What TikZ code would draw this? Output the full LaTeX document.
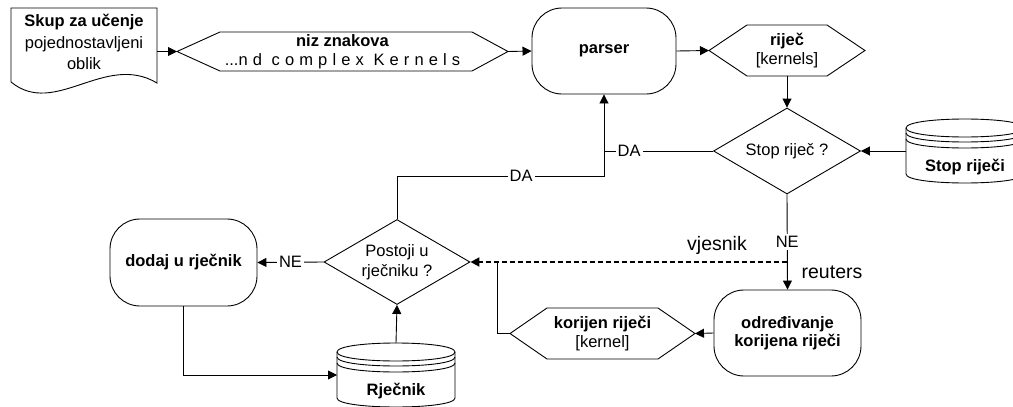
\documentclass[tikz,border=0pt]{standalone}
\usepackage{fontspec}
\setmainfont{Liberation Sans}
\usetikzlibrary{arrows.meta,shapes.geometric}

\tikzset{
  shape line/.style={draw=black, line width=0.9pt},
  txt/.style={font=\fontsize{16.5}{19.5}\selectfont, align=center, inner sep=0pt},
  boldtxt/.style={txt, font=\fontsize{16.5}{19.5}\selectfont\bfseries},
  hexbox/.style={txt, draw=none, outer sep=0pt, inner sep=0pt},
  procbox/.style={shape line, rectangle, rounded corners=30pt, boldtxt,
    font=\fontsize{16.5}{18}\selectfont\bfseries},
  decision/.style={shape line, diamond, aspect=1.7, txt, fill=white},
  cylbox/.style={draw=none, inner sep=0pt, outer sep=0pt,
    minimum width=118pt, minimum height=64pt},
  line/.style={draw=black, line width=0.9pt},
  conn/.style={line, -{Triangle[length=9pt,width=9pt]}},
  dashconn/.style={conn, line width=2pt, dash pattern=on 5pt off 3pt},
  lbl/.style={txt, fill=white, inner sep=2pt},
  bigtxt/.style={font=\fontsize{19.5}{22}\selectfont, inner sep=0pt},
}

% hexagonal data block: name, cx, cy, width, height, left depth, right depth, text
\newcommand\hexnode[8]{%
  \node[hexbox, minimum width=#4pt, minimum height=#5pt] (#1) at (#2,#3) {#8};
  \draw[shape line] (#1.west) -- ([xshift=#6pt]#1.north west)
    -- ([xshift=-#7pt]#1.north east) -- (#1.east)
    -- ([xshift=-#7pt]#1.south east) -- ([xshift=#6pt]#1.south west) -- cycle;}

% stacked-disc database: name, left x, top y, text, text node name
\newcommand\dbnode[5]{%
  \node[cylbox] (#1) at (#2+59,#3+32) {};
  \draw[shape line, fill=white] (#2,#3+9) -- (#2,#3+55)
    .. controls (#2,#3+67) and (#2+118,#3+67) .. (#2+118,#3+55)
    -- (#2+118,#3+9)
    .. controls (#2+118,#3-3) and (#2,#3-3) .. cycle;
  \foreach \k in {0,5,11}
    \draw[shape line] (#2,#3+9+\k) .. controls (#2,#3+21+\k) and (#2+118,#3+21+\k) .. (#2+118,#3+9+\k);
  \node[boldtxt] (#5) at (#2+59,#3+48) {#4};}

\begin{document}
\begin{tikzpicture}[x=1pt, y=-1pt]
\useasboundingbox (0,0) rectangle (1013,407);

% training set document
\draw[shape line] (11,8) -- (157,8) -- (157,83)
  .. controls (105,52) and (55,118) .. (11,82) -- cycle;
\node[txt, font=\fontsize{16.5}{21.5}\selectfont] (skup) at (84,42)
  {\textbf{Skup za učenje}\\pojednostavljeni\\oblik};
\coordinate (skup-out) at (157,51.5);

% data blocks
\hexnode{niz}{342.5}{51.5}{331}{39}{43}{36}
  {\textbf{niz znakova}\\...{\addfontfeatures{LetterSpace=31}nd complex Kernels}}
\hexnode{rijec}{787}{50.5}{156}{51}{38}{38}{\textbf{riječ}\\{}[kernels]}
\hexnode{korijen}{602.5}{333.5}{185}{51}{37}{37}
  {\textbf{korijen riječi}\\{}[kernel]}

% processes
\node[procbox, minimum width=144pt, minimum height=86pt] (parser) at (604,51) {parser};
\node[procbox, minimum width=147pt, minimum height=87pt] (dodaj) at (183.5,262.5) {dodaj u rječnik};
\node[procbox, minimum width=147pt, minimum height=86pt] (odr) at (787.5,333)
  {određivanje\\korijena riječi};

% decisions
\node[decision, minimum width=147pt, minimum height=86pt] (stop) at (787,151) {Stop riječ ?};
\node[decision, minimum width=146pt, minimum height=85pt] (postoji) at (397,262)
  {Postoji u\\rječniku ?};

% databases
\dbnode{stopdb}{906}{119}{Stop riječi}{stopdb-t}
\dbnode{rjdb}{337}{343}{Rječnik}{rjdb-t}

% connectors
\draw[conn] (skup-out) -- (niz.west);
\draw[conn] (niz.east) -- (parser.west);
\draw[conn] (parser.east) -- (rijec.west);
\draw[conn] (rijec.south) -- (stop.north);
\draw[conn] (stopdb.west) -- (stop.east);
\draw[line] (stop.west) -- node[lbl, pos=0.77] (da1) {DA} (stop.west -| parser.south);
\coordinate (jd) at (604,176);
\draw[conn] (postoji.north) |- node[lbl, pos=0.8] (da2) {DA} (jd) -- (parser.south);
\draw[conn] (stop.south) -- node[lbl] (ne1) {NE} (odr.north);
\coordinate (jv) at (stop.south |- postoji.east);
\draw[dashconn] (jv) -- (postoji.east);
\coordinate (jk) at ([xshift=27pt]postoji.east);
\draw[line] (korijen.west) -| (jk);
\draw[conn] (odr.west) -- (korijen.east);
\draw[conn] (postoji.west) -- node[lbl] (ne2) {NE} (dodaj.east);
\draw[conn] (dodaj.south) |- (rjdb.west);
\draw[conn] (rjdb.north) -- (postoji.south);

% corpus labels
\node[bigtxt] (vjesnik) at (717,245) {vjesnik};
\node[bigtxt] (reuters) at (832,272) {reuters};
\end{tikzpicture}
\end{document}
